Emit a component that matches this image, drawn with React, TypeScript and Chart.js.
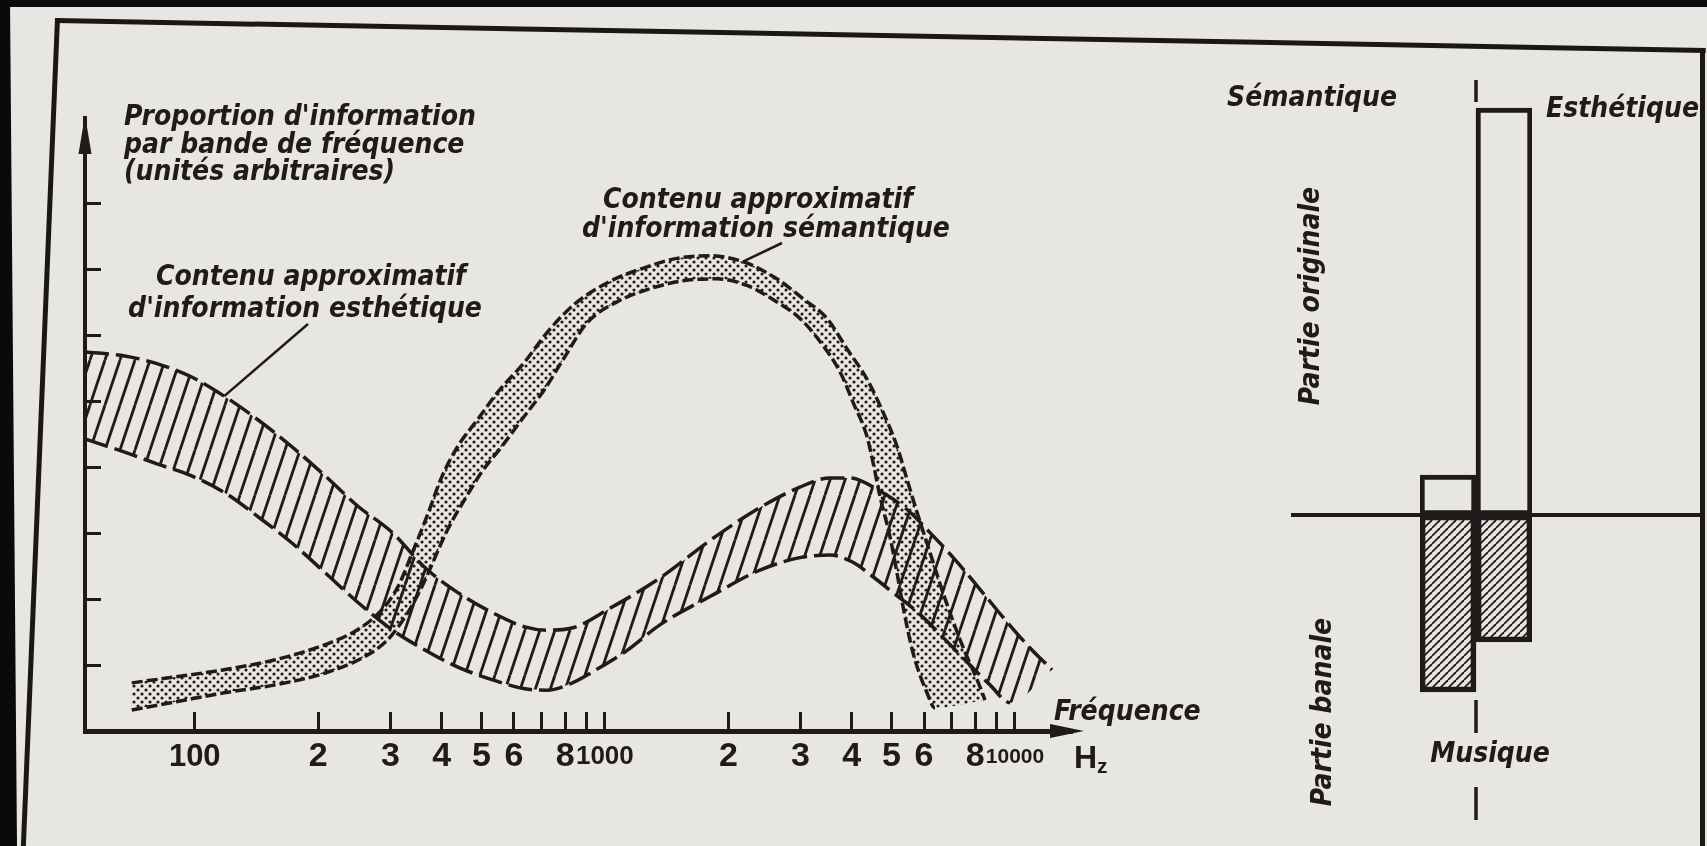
import React, { useEffect, useRef } from 'react';
import { Chart, registerables } from 'chart.js';

Chart.register(...registerables);

const INK = '#201a1a';
const PAPER = '#e8e6e2';
const LABEL_FONT = 'italic bold 28px "DejaVu Sans Condensed", "DejaVu Sans", sans-serif';
const TICK_FAMILY = '"Liberation Sans Narrow", "Liberation Sans", Arial, sans-serif';

// Contenu approximatif d'information esthétique (bande hachurée) — Hz / unités arbitraires
const aesUpperFreq = [54, 67.5, 81.2, 98.3, 118, 142, 172, 208, 250, 302, 364, 438, 530, 638, 722, 840, 1028, 1362, 1804, 2388, 2989, 3538, 3959, 4686, 5453, 6204, 7141, 8215, 9454, 10880, 12310];
const aesUpperVal = [5.75, 5.69, 5.57, 5.37, 5.08, 4.73, 4.32, 3.87, 3.41, 3.02, 2.48, 2.1, 1.8, 1.58, 1.53, 1.57, 1.86, 2.32, 2.89, 3.39, 3.7, 3.84, 3.84, 3.64, 3.36, 3.01, 2.6, 2.15, 1.69, 1.26, 0.93];
const aesLowerFreq = [54, 67.5, 81.2, 98.3, 118, 142, 172, 208, 250, 302, 364, 438, 530, 638, 722, 840, 935, 1131, 1362, 1804, 2388, 2989, 3538, 4026, 4505, 5041, 5865, 6750, 7766, 8690, 9723, 12310];
const aesLowerVal = [4.43, 4.23, 4.05, 3.87, 3.62, 3.26, 2.86, 2.4, 1.95, 1.54, 1.23, 0.97, 0.78, 0.64, 0.62, 0.74, 0.9, 1.22, 1.61, 2.04, 2.44, 2.63, 2.67, 2.56, 2.34, 2.1, 1.77, 1.39, 1.0, 0.7, 0.43, 0.93];

// Contenu approximatif d'information sémantique (bande pointillée)
const semUpperFreq = [70.2, 89.4, 118, 157, 208, 250, 286, 313, 338, 370, 400, 438, 490, 548, 638, 726, 845, 1028, 1238, 1498, 1804, 2171, 2627, 3040, 3479, 3892, 4355, 4764, 5155, 5453, 5768, 6204, 6674, 7340, 8215, 8449];
const semUpperVal = [0.73, 0.82, 0.93, 1.08, 1.31, 1.54, 1.84, 2.19, 2.68, 3.29, 3.85, 4.32, 4.73, 5.14, 5.6, 6.06, 6.48, 6.82, 7.02, 7.17, 7.21, 7.12, 6.86, 6.56, 6.26, 5.8, 5.34, 4.84, 4.32, 3.82, 3.32, 2.71, 2.1, 1.39, 0.67, 0.47];
const semLowerFreq = [70.2, 89.4, 118, 157, 208, 260, 296, 331, 358, 414, 456, 501, 561, 628, 714, 799, 904, 1070, 1288, 1550, 1876, 2220, 2627, 2989, 3345, 3743, 4026, 4355, 4505, 4686, 4956, 5155, 5332, 5639, 6101, 6381, 8449];
const semLowerVal = [0.32, 0.44, 0.58, 0.7, 0.88, 1.13, 1.39, 1.8, 2.19, 3.06, 3.52, 3.93, 4.32, 4.73, 5.19, 5.68, 6.19, 6.51, 6.71, 6.83, 6.86, 6.76, 6.51, 6.26, 5.91, 5.45, 4.99, 4.47, 4.08, 3.56, 2.95, 2.4, 1.89, 1.19, 0.58, 0.35, 0.47];

const xTickValues = [100, 200, 300, 400, 500, 600, 700, 800, 900, 1000, 2000, 3000, 4000, 5000, 6000, 7000, 8000, 9000, 10000];
const xTickLabels = ['100', '2', '3', '4', '5', '6', '', '8', '', '1000', '2', '3', '4', '5', '6', '', '8', '', '10000'];
const yTickValues = [1, 2, 3, 4, 5, 6, 7, 8];

const yTitleLines = ["Proportion d'information", 'par bande de fréquence', '(unités arbitraires)'];
const aesLabelLines = ['Contenu approximatif', "d'information esthétique"];
const semLabelLines = ['Contenu approximatif', "d'information sémantique"];
const xTitle = 'Fréquence';
const xUnit = ['H', 'z'];

// Musique : partie originale / partie banale
const partCategories = ['Sémantique', 'Esthétique'];
const originalPart = [0.4, 4.07];
const banalePart = [-1.77, -1.27];
const partRowLabels = ['Partie originale', 'Partie banale'];
const musicLabel = 'Musique';

const toPoints = (xs: number[], ys: number[]) => xs.map((x, i) => ({ x, y: ys[i] }));

function makeHatch(w: number, h: number, lw: number) {
  const c = document.createElement('canvas');
  c.width = w;
  c.height = h;
  const g = c.getContext('2d') as CanvasRenderingContext2D;
  g.strokeStyle = INK;
  g.lineWidth = lw;
  for (let k = -1; k <= 1; k++) {
    g.beginPath();
    g.moveTo(k * w, h);
    g.lineTo(k * w + w, 0);
    g.stroke();
  }
  return g.createPattern(c, 'repeat') as CanvasPattern;
}

function makeDots(s: number, r: number) {
  const c = document.createElement('canvas');
  c.width = s;
  c.height = s;
  const g = c.getContext('2d') as CanvasRenderingContext2D;
  g.fillStyle = INK;
  [[s / 4, s / 4], [(3 * s) / 4, (3 * s) / 4]].forEach(([x, y]) => {
    g.beginPath();
    g.arc(x, y, r, 0, Math.PI * 2);
    g.fill();
  });
  return g.createPattern(c, 'repeat') as CanvasPattern;
}

// hide the short closing segment at the end of a band
const hideLastSegment = (n: number) => ({
  borderColor: (c: any) => (c.p1DataIndex === n - 1 ? 'rgba(0,0,0,0)' : undefined),
});

const tickFontSize = (v: number) => (v === 10000 ? 21 : v === 1000 ? 26 : v === 100 ? 31 : 34);

const leftDecor = {
  id: 'leftDecor',
  afterDraw(chart: any) {
    const { ctx, chartArea: a, scales } = chart;
    const xs = scales.x;
    const ys = scales.y;
    ctx.save();
    ctx.fillStyle = INK;
    ctx.strokeStyle = INK;
    ctx.beginPath();
    ctx.moveTo(a.left, a.top - 3);
    ctx.lineTo(a.left - 6.5, a.top + 36);
    ctx.lineTo(a.left + 6.5, a.top + 36);
    ctx.closePath();
    ctx.fill();
    ctx.beginPath();
    ctx.moveTo(a.right + 12, a.bottom);
    ctx.lineTo(a.right - 22, a.bottom - 7);
    ctx.lineTo(a.right - 22, a.bottom + 7);
    ctx.closePath();
    ctx.fill();
    ctx.font = LABEL_FONT;
    ctx.textBaseline = 'alphabetic';
    ctx.textAlign = 'left';
    yTitleLines.forEach((t, i) => ctx.fillText(t, 124, 125 + i * 27.5));
    ctx.textAlign = 'center';
    ctx.fillText(aesLabelLines[0], 311, 285);
    ctx.fillText(aesLabelLines[1], 305, 317);
    ctx.fillText(semLabelLines[0], 758, 208);
    ctx.fillText(semLabelLines[1], 766, 237);
    ctx.textAlign = 'left';
    ctx.fillText(xTitle, 1054, 720);
    ctx.font = 'bold 32px ' + TICK_FAMILY;
    ctx.fillText(xUnit[0], 1074, 768);
    ctx.font = 'bold 21px ' + TICK_FAMILY;
    ctx.fillText(xUnit[1], 1097, 773);
    ctx.lineWidth = 2.5;
    ctx.beginPath();
    ctx.moveTo(308, 324);
    ctx.lineTo(xs.getPixelForValue(aesUpperFreq[4]), ys.getPixelForValue(aesUpperVal[4]));
    ctx.stroke();
    ctx.beginPath();
    ctx.moveTo(782, 243);
    ctx.lineTo(xs.getPixelForValue(semUpperFreq[21]), ys.getPixelForValue(semUpperVal[21]));
    ctx.stroke();
    ctx.restore();
  },
};

const rightDecor = {
  id: 'rightDecor',
  beforeDatasetsDraw(chart: any) {
    const { ctx, scales, chartArea: a } = chart;
    const xs = scales.x;
    const ys = scales.y;
    const y0 = ys.getPixelForValue(0);
    const xb = (xs.getPixelForValue(0) + xs.getPixelForValue(1)) / 2;
    const topBar = ys.getPixelForValue(Math.max(...originalPart));
    const lowBar = ys.getPixelForValue(Math.min(...banalePart));
    ctx.save();
    ctx.strokeStyle = INK;
    ctx.lineWidth = 4;
    ctx.beginPath();
    ctx.moveTo(91, y0);
    ctx.lineTo(501, y0);
    ctx.stroke();
    ctx.lineWidth = 3.5;
    ctx.setLineDash([22, 300]);
    ctx.beginPath();
    ctx.moveTo(xb, a.top);
    ctx.lineTo(xb, topBar);
    ctx.stroke();
    ctx.setLineDash([33, 54]);
    ctx.lineDashOffset = -8;
    ctx.beginPath();
    ctx.moveTo(xb, lowBar);
    ctx.lineTo(xb, a.bottom);
    ctx.stroke();
    ctx.restore();
  },
  afterDraw(chart: any) {
    const { ctx } = chart;
    ctx.save();
    ctx.fillStyle = INK;
    ctx.font = LABEL_FONT;
    ctx.textBaseline = 'alphabetic';
    ctx.textAlign = 'left';
    ctx.fillText(partCategories[0], 27, 106);
    ctx.fillText(partCategories[1], 346, 117);
    ctx.textAlign = 'center';
    ctx.fillText(musicLabel, 290, 762);
    const rot = (t: string, cx: number, cy: number) => {
      ctx.save();
      ctx.translate(cx, cy);
      ctx.rotate(-Math.PI / 2);
      ctx.textAlign = 'center';
      ctx.textBaseline = 'middle';
      ctx.fillText(t, 0, 0);
      ctx.restore();
    };
    rot(partRowLabels[0], 112, 296);
    rot(partRowLabels[1], 124, 712);
    ctx.restore();
  },
};

export default function App() {
  const leftRef = useRef<HTMLCanvasElement>(null);
  const rightRef = useRef<HTMLCanvasElement>(null);

  useEffect(() => {
    document.body.style.margin = '0';
    const dots = makeDots(8, 1.55);
    const hatch = makeHatch(15, 45, 2.8);
    const barHatch = makeHatch(8, 8, 1.8);

    const lineCommon = {
      borderColor: INK,
      borderWidth: 3.5,
      pointRadius: 0,
      cubicInterpolationMode: 'monotone' as const,
    };

    const left = new Chart(leftRef.current as HTMLCanvasElement, {
      type: 'line',
      data: {
        datasets: [
          { ...lineCommon, label: 'sem-haut', data: toPoints(semUpperFreq, semUpperVal), borderDash: [11, 4], fill: '+1', backgroundColor: dots },
          { ...lineCommon, label: 'sem-bas', data: toPoints(semLowerFreq, semLowerVal), borderDash: [11, 4], fill: false, segment: hideLastSegment(semLowerFreq.length) },
          { ...lineCommon, label: 'aes-haut', data: toPoints(aesUpperFreq, aesUpperVal), borderDash: [24, 7], fill: '+1', backgroundColor: hatch },
          { ...lineCommon, label: 'aes-bas', data: toPoints(aesLowerFreq, aesLowerVal), borderDash: [24, 7], fill: false, segment: hideLastSegment(aesLowerFreq.length) },
        ],
      },
      options: {
        responsive: false,
        animation: false,
        devicePixelRatio: 1,
        events: [],
        layout: { padding: { left: 85, top: 118, right: 128, bottom: 0 } },
        plugins: { legend: { display: false }, tooltip: { enabled: false } },
        scales: {
          x: {
            type: 'logarithmic',
            min: 54,
            max: 13772,
            afterFit: (s: any) => { s.height = 115; },
            afterBuildTicks: (s: any) => { s.ticks = xTickValues.map((v) => ({ value: v })); },
            grid: { drawOnChartArea: false, drawTicks: true, tickLength: -19, tickWidth: 3, tickColor: INK, color: INK },
            border: { display: true, color: INK, width: 5 },
            ticks: {
              autoSkip: false,
              maxRotation: 0,
              minRotation: 0,
              padding: 28,
              color: INK,
              font: (c: any) => ({ family: TICK_FAMILY, size: tickFontSize(c.tick ? c.tick.value : 0), weight: 'bold', lineHeight: '34px' }),
              callback: (_v: any, i: number) => xTickLabels[i],
            },
          },
          y: {
            type: 'linear',
            min: 0,
            max: 9.3,
            afterFit: (s: any) => { s.width = 0; },
            afterBuildTicks: (s: any) => { s.ticks = yTickValues.map((v) => ({ value: v })); },
            grid: { drawOnChartArea: false, drawTicks: true, tickLength: -16, tickWidth: 3, tickColor: INK },
            border: { display: true, color: INK, width: 4 },
            ticks: { display: false },
          },
        },
      } as any,
      plugins: [leftDecor],
    });

    const barCommon = {
      borderColor: INK,
      borderWidth: 5,
      borderSkipped: false,
      grouped: false,
      categoryPercentage: 1,
      barPercentage: 1,
    };

    const right = new Chart(rightRef.current as HTMLCanvasElement, {
      type: 'bar',
      data: {
        labels: partCategories,
        datasets: [
          { ...barCommon, label: partRowLabels[0], data: originalPart, backgroundColor: PAPER },
          { ...barCommon, label: partRowLabels[1], data: banalePart, backgroundColor: barHatch },
        ],
      },
      options: {
        responsive: false,
        animation: false,
        devicePixelRatio: 1,
        events: [],
        layout: { padding: { left: 220, right: 175, top: 80, bottom: 0 } },
        plugins: { legend: { display: false }, tooltip: { enabled: false } },
        scales: {
          x: { type: 'category', offset: true, display: false },
          y: { display: false, min: -3.31, max: 4.35 },
        },
      } as any,
      plugins: [rightDecor],
    });

    return () => {
      left.destroy();
      right.destroy();
    };
  }, []);

  const ink = '#1c1717';
  return (
    <div style={{ position: 'fixed', left: 0, top: 0, width: 1707, height: 846, background: PAPER, overflow: 'hidden' }}>
      <div style={{ position: 'absolute', left: 0, top: 0, width: 1707, height: 7, background: '#0b0a0a' }} />
      <div style={{ position: 'absolute', left: 0, top: 0, width: 18, height: 846, background: '#0b0a0a', clipPath: 'polygon(0 0, 10px 0, 17px 100%, 0 100%)' }} />
      <div style={{ position: 'absolute', left: 56, top: 18, width: 1650, height: 5, background: ink, transform: 'rotate(1.04deg)', transformOrigin: '0 50%' }} />
      <div style={{ position: 'absolute', left: 55, top: 18, width: 5, height: 840, background: ink, transform: 'rotate(2.36deg)', transformOrigin: '50% 0' }} />
      <div style={{ position: 'absolute', left: 1700, top: 48, width: 5, height: 800, background: ink }} />
      <canvas ref={leftRef} width={1200} height={846} style={{ position: 'absolute', left: 0, top: 0, width: 1200, height: 846 }} />
      <canvas ref={rightRef} width={507} height={846} style={{ position: 'absolute', left: 1200, top: 0, width: 507, height: 846 }} />
    </div>
  );
}
